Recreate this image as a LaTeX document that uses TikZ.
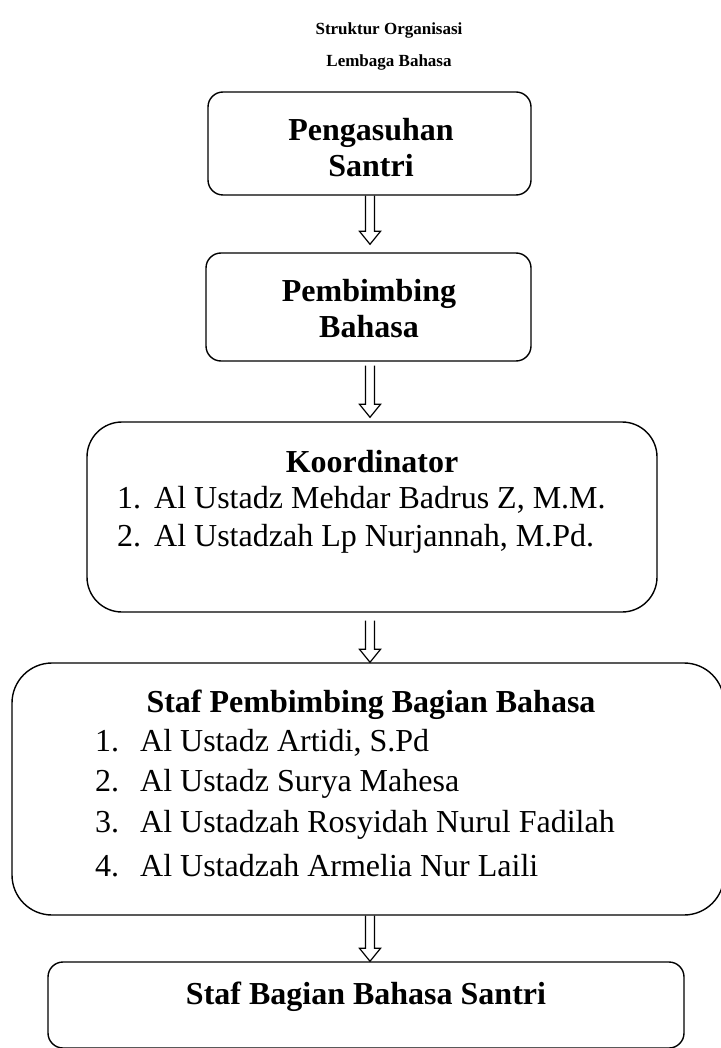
\documentclass[tikz,border=0pt]{standalone}
\usepackage{fontspec}
\setmainfont{Liberation Serif}
\usetikzlibrary{calc}

\tikzset{
  kotak/.style={draw, line width=1.4pt, rounded corners=#1, inner sep=0pt},
  kotak/.default=15pt,
  judul/.style={font=\fontsize{17}{20}\selectfont\bfseries},
  kepala/.style={font=\fontsize{32}{36}\selectfont\bfseries, align=center},
  isi/.style={font=\fontsize{32}{36}\selectfont, anchor=west, inner sep=0pt},
}

% hollow arrow between two boxes: #3 gap at the top, #4 gap at the tip
\newcommand{\panah}[4]{%
  \draw[line width=1.2pt] let \p1=(#1.south), \p2=(#2.north) in
    (365.5pt,\y1-#3pt) -- (365.5pt,\y2+#4pt+13pt) -- (359.5pt,\y2+#4pt+13pt)
    -- (370pt,\y2+#4pt) -- (380.5pt,\y2+#4pt+13pt) -- (374.5pt,\y2+#4pt+13pt)
    -- (374.5pt,\y1-#3pt);}

\newcommand{\butir}[2]{\makebox[#1][l]{#2}}

\begin{document}
\begin{tikzpicture}[x=1pt,y=-1pt]
  \useasboundingbox (0,0) rectangle (720,1048);

  \node[judul] (t1) at (389,30) {Struktur Organisasi};
  \node[judul] (t2) at (389,62) {Lembaga Bahasa};

  \node[kotak, minimum width=323pt, minimum height=103pt] (pengasuhan) at (369.5,143.5) {};
  \node[kepala] (pengasuhanT) at (371,148) {Pengasuhan\\Santri};

  \node[kotak, minimum width=325pt, minimum height=108pt] (pembimbing) at (368.5,307) {};
  \node[kepala] (pembimbingT) at (369,309) {Pembimbing\\Bahasa};

  \node[kotak=35pt, minimum width=570pt, minimum height=190pt] (koordinator) at (372,517) {};
  \node[kepala] (koordinatorT) at (372,462) {Koordinator};
  \node[isi] (k1) at (117,500) {\butir{37pt}{1.}Al Ustadz Mehdar Badrus Z, M.M.};
  \node[isi] (k2) at (117,539) {\butir{37pt}{2.}Al Ustadzah Lp Nurjannah, M.Pd.};

  \node[kotak=40pt, minimum width=712pt, minimum height=252pt] (staf) at (368,789) {};
  \node[kepala] (stafT) at (371,705) {Staf Pembimbing Bagian Bahasa};
  \node[isi] (s1) at (95,743) {\butir{45pt}{1.}Al Ustadz Artidi, S.Pd};
  \node[isi] (s2) at (95,784) {\butir{45pt}{2.}Al Ustadz Surya Mahesa};
  \node[isi] (s3) at (95,825) {\butir{45pt}{3.}Al Ustadzah Rosyidah Nurul Fadilah};
  \node[isi] (s4) at (95,866) {\butir{45pt}{4.}Al Ustadzah Armelia Nur Laili};

  \node[kotak, minimum width=636pt, minimum height=86pt] (santri) at (366,1005) {};
  \node[kepala] (santriT) at (366,997) {Staf Bagian Bahasa Santri};

  \panah{pengasuhan}{pembimbing}{0}{8}
  \panah{pembimbing}{koordinator}{4}{4}
  \panah{koordinator}{staf}{8}{0}
  \panah{staf}{santri}{0}{0}
\end{tikzpicture}
\end{document}
